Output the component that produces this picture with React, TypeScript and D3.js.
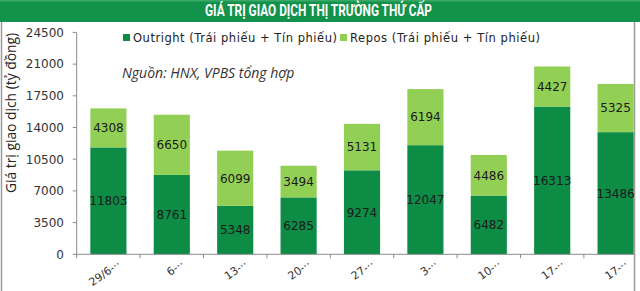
import React from "react";
import * as d3 from "d3";

const categories = ["29/6-··", "6-··", "13-··", "20-··", "27-··", "3-··", "10-··", "17-··", "17-··"];
const outright = [11803, 8761, 5348, 6285, 9274, 12047, 6482, 16313, 13486];
const repos = [4308, 6650, 6099, 3494, 5131, 6194, 4486, 4427, 5325];
const yTicks = [0, 3500, 7000, 10500, 14000, 17500, 21000, 24500];

const W = 640;
const H = 291;
const DARK = "#0d8c46";
const LIGHT = "#92cf55";
const BANNER = "#12924a";
const NUM_FONT = "'DejaVu Sans', Verdana, sans-serif";

export default function App() {
  const x0 = 76.7;
  const step = 63.4;
  const x = d3
    .scaleBand<number>()
    .domain(categories.map((_, i) => i))
    .range([x0, x0 + step * categories.length])
    .paddingInner(0.43)
    .paddingOuter(0.215);
  const y = d3.scaleLinear().domain([0, 24500]).range([254.3, 32.4]);
  const bw = x.bandwidth();

  return (
    <svg
      width={W}
      height={H}
      viewBox={`0 0 ${W} ${H}`}
      style={{ position: "absolute", left: 0, top: 0, background: "#fff" }}
    >
      <defs>
        <clipPath id="plotclip">
          <rect x={0} y={0} width={634} height={H} />
        </clipPath>
      </defs>
      {/* banner */}
      <rect x={0} y={0} width={W} height={22} fill={BANNER} />
      <rect x={0} y={0} width={W} height={1.5} fill="#3aa866" />
      <text
        x={318.5}
        y={16}
        textAnchor="middle"
        fill="#fff"
        fontFamily="'Liberation Sans Narrow', 'Roboto', 'Liberation Sans', sans-serif"
        fontWeight="bold"
        fontSize={16.5}
        textLength={227}
        lengthAdjust="spacingAndGlyphs"
      >
        GIÁ TRỊ GIAO DỊCH THỊ TRƯỜNG THỨ CẤP
      </text>
      {/* frame */}
      <line x1={1.5} x2={1.5} y1={22} y2={H} stroke="#9a9a9a" strokeWidth={1.5} />
      <line x1={634.5} x2={634.5} y1={22} y2={H} stroke="#9a9a9a" strokeWidth={1.5} />

      {/* y axis title */}
      <text
        transform={`translate(16, 113) rotate(-90)`}
        textAnchor="middle"
        fill="#222"
        fontFamily="'Open Sans', 'Liberation Sans', sans-serif"
        fontSize={14}
        textLength={160}
        lengthAdjust="spacingAndGlyphs"
      >
        Giá trị giao dịch (tỷ đồng)
      </text>

      {/* y axis */}
      <line x1={x0} x2={x0} y1={y(24500)} y2={y(0)} stroke="#8c8c8c" strokeWidth={1} />
      {yTicks.map((t) => (
        <g key={t}>
          <line x1={x0 - 4} x2={x0} y1={y(t)} y2={y(t)} stroke="#8c8c8c" />
          <text
            x={64}
            y={y(t)}
            dy="0.36em"
            textAnchor="end"
            fill="#333"
            fontFamily={NUM_FONT}
            fontSize={12}
          >
            {t}
          </text>
        </g>
      ))}

      {/* bars */}
      <g clipPath="url(#plotclip)">
        {categories.map((_, i) => {
          const bx = x(i)!;
          const o = outright[i];
          const r = repos[i];
          return (
            <g key={i}>
              <rect x={bx} y={y(o)} width={bw} height={y(0) - y(o)} fill={DARK} />
              <rect x={bx} y={y(o + r)} width={bw} height={y(o) - y(o + r)} fill={LIGHT} />
              <text
                x={bx + bw / 2}
                y={(y(0) + y(o)) / 2}
                dy="0.36em"
                textAnchor="middle"
                fill="#1a1a1a"
                fontFamily={NUM_FONT}
                fontSize={12}
              >
                {o}
              </text>
              <text
                x={bx + bw / 2}
                y={(y(o) + y(o + r)) / 2}
                dy="0.36em"
                textAnchor="middle"
                fill="#1a1a1a"
                fontFamily={NUM_FONT}
                fontSize={12}
              >
                {r}
              </text>
            </g>
          );
        })}
      </g>

      {/* x axis */}
      <line x1={x0} x2={634} y1={y(0)} y2={y(0)} stroke="#8c8c8c" />
      {categories.map((_, i) => {
        const tx = x0 + step * i;
        return <line key={"t" + i} x1={tx} x2={tx} y1={y(0)} y2={y(0) + 4} stroke="#8c8c8c" />;
      })}
      {categories.map((c, i) => {
        const cx = x(i)! + bw / 2;
        return (
          <text
            key={"l" + i}
            transform={`translate(${cx + 13}, 266) rotate(-35)`}
            textAnchor="end"
            fill="#333"
            fontFamily={NUM_FONT}
            fontSize={11}
          >
            {c}
          </text>
        );
      })}

      {/* legend */}
      <rect x={123} y={34} width={7} height={7} fill={DARK} />
      <text
        x={133}
        y={42}
        fill="#222"
        fontFamily={NUM_FONT}
        fontSize={11.5}
        textLength={204}
        lengthAdjust="spacing"
      >
        Outright (Trái phiếu + Tín phiếu)
      </text>
      <rect x={340} y={34} width={7} height={7} fill={LIGHT} />
      <text
        x={350}
        y={42}
        fill="#222"
        fontFamily={NUM_FONT}
        fontSize={11.5}
        textLength={190}
        lengthAdjust="spacing"
      >
        Repos (Trái phiếu + Tín phiếu)
      </text>

      {/* source note */}
      <text
        x={122}
        y={78}
        fill="#333"
        fontFamily="'Open Sans', 'Liberation Sans', sans-serif"
        fontStyle="italic"
        fontSize={14}
      >
        Nguồn: HNX, VPBS tổng hợp
      </text>
    </svg>
  );
}
